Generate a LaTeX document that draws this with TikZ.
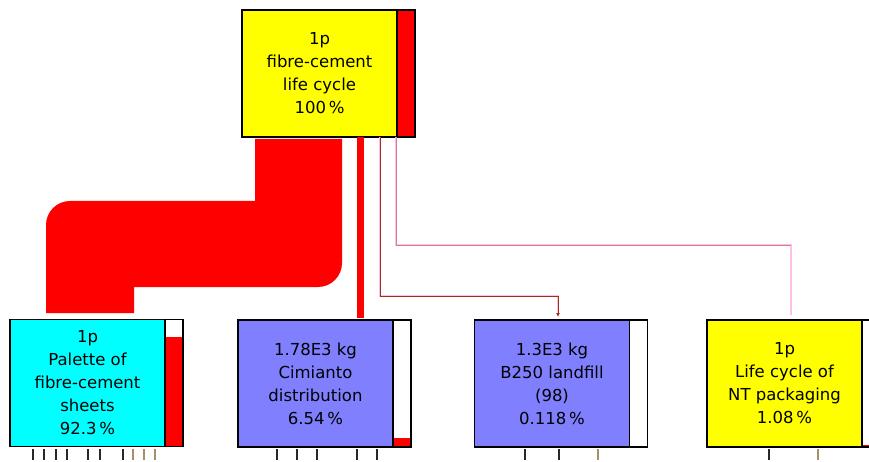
\documentclass[tikz,border=0pt]{standalone}
\usepackage{fontspec}
\setmainfont{DejaVu Sans}
\usetikzlibrary{arrows.meta}
\definecolor{procblue}{RGB}{128,128,255}
\definecolor{procyellow}{RGB}{255,255,0}
\definecolor{proccyan}{RGB}{0,255,255}
\definecolor{linkpink}{RGB}{255,190,235}
\definecolor{linkbrown}{RGB}{165,45,25}
\definecolor{tickdark}{RGB}{40,40,40}
\definecolor{ticklight}{RGB}{165,145,105}

\begin{document}
\begin{tikzpicture}[x=1pt, y=-1pt,
  proc/.style={draw, line width=1.5, outer sep=0, inner sep=0,
    minimum width=155, minimum height=127, align=center,
    font=\fontsize{16.5}{23}\selectfont},
  bar/.style={draw, line width=1.5},
  halo/.style={linkpink, line width=2.6},
  core/.style={linkbrown, line width=0.8}]
  \useasboundingbox (0,0) rectangle (869,462);

  \node[proc, fill=procyellow] (top) at (319.5,73.5) {1p\\fibre-cement\\life cycle\\100\,\%};
  \node[proc, fill=proccyan] (pal) at (87.5,383) {1p\\Palette of\\fibre-cement\\sheets\\92.3\,\%};
  \node[proc, fill=procblue] (cim) at (315.5,383.5) {1.78E3 kg\\Cimianto\\distribution\\6.54\,\%};
  \node[proc, fill=procblue] (b250) at (552,383.5) {1.3E3 kg\\B250 landfill\\(98)\\0.118\,\%};
  \node[proc, fill=procyellow] (nt) at (784.5,383.5) {1p\\Life cycle of\\NT packaging\\1.08\,\%};

  \fill[red] (top.north east) rectangle ++(18,127);
  \draw[bar] (top.north east) rectangle ++(18,127);
  \fill[red] ([yshift=-17]pal.north east) rectangle ++(18,110);
  \draw[bar] (pal.north east) rectangle ++(18,127);
  \fill[red] ([yshift=9]cim.south east) rectangle ++(18,9);
  \draw[bar] (cim.north east) rectangle ++(18,127);
  \draw[bar] (b250.north east) rectangle ++(18,127);
  \fill[red] ([yshift=2]nt.south east) rectangle ++(18,2);
  \draw[bar] (nt.north east) rectangle ++(18,127);

  \coordinate (p1) at ([xshift=13,yshift=-2]top.south west);
  \coordinate (p2) at ([xshift=100,yshift=-2]top.south west);
  \coordinate (p3) at ([xshift=36,yshift=6.5]pal.north west);
  \coordinate (p4) at ([xshift=124,yshift=6.5]pal.north west);
  \fill[red] (p1) -- (p2) [rounded corners=24] -- ++(0,148) [sharp corners]
    -- ++(-208,0) -- (p4) -- (p3) [rounded corners=24] -- ++(0,-112)
    [sharp corners] -- ++(209,0) -- cycle;

  \draw[red, line width=7] ([xshift=118.5]top.south west) -- ([xshift=122.5,yshift=2]cim.north west);

  \draw[halo] ([xshift=154]top.south west) -- ++(0,108) -| ([xshift=84,yshift=5]nt.north west);
  \draw[core, linkbrown!45!linkpink, line width=0.6] ([xshift=154]top.south west) -- ++(0,108) -- ++(395,0);
  \draw[halo] ([xshift=138]top.south west) -- ++(0,159) -| ([xshift=83.5,yshift=5]b250.north west);
  \draw[core, -{Latex[length=4,width=4]}] ([xshift=138]top.south west) -- ++(0,159) -| ([xshift=83.5,yshift=3]b250.north west);

  \foreach \x in {33,44,56,67,88,100,123,277,297,317,357,377,525,559,769}
    \draw[tickdark, line width=1.8] (\x,449) -- (\x,460);
  \foreach \x in {133,144,155,598,818}
    \draw[ticklight, line width=1.8] (\x,449) -- (\x,460);
\end{tikzpicture}
\end{document}
